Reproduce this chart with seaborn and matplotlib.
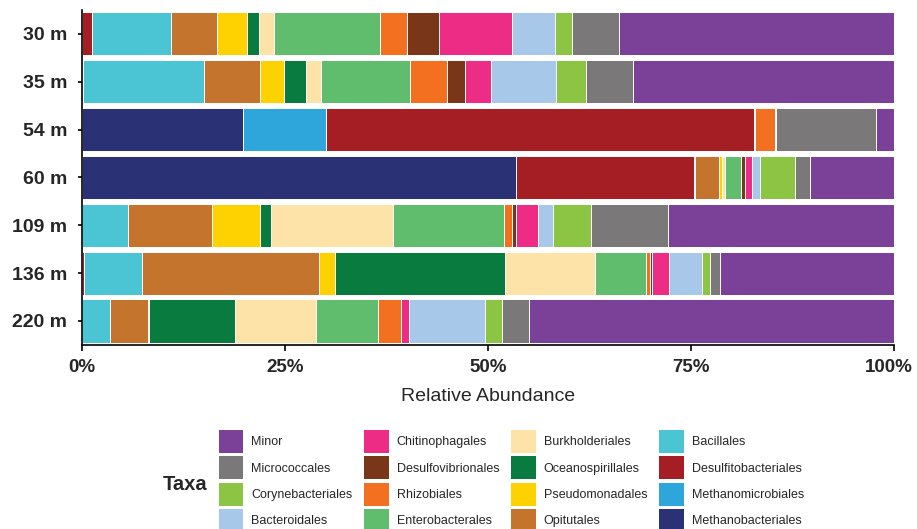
import matplotlib
matplotlib.use("Agg")
import matplotlib.pyplot as plt
from matplotlib.patches import Patch
from matplotlib.transforms import ScaledTranslation
import pandas as pd
import seaborn as sns

# Sampling depths (top to bottom)
depths = ["30 m", "35 m", "54 m", "60 m", "109 m", "136 m", "220 m"]

# Taxa in stacking order (left to right)
taxa = [
    "Methanobacteriales", "Methanomicrobiales", "Desulfitobacteriales",
    "Bacillales", "Opitutales", "Pseudomonadales", "Oceanospirillales",
    "Burkholderiales", "Enterobacterales", "Rhizobiales",
    "Desulfovibrionales", "Chitinophagales", "Bacteroidales",
    "Corynebacteriales", "Micrococcales", "Minor",
]

# Relative abundance (%) per taxon, one value per depth
methanobacteriales = [0.0, 0.0, 19.8, 53.5, 0.0, 0.0, 0.0]
methanomicrobiales = [0.0, 0.0, 10.3, 0.0, 0.0, 0.0, 0.0]
desulfitobacteriales = [1.2, 0.1, 52.6, 21.8, 0.0, 0.2, 0.0]
bacillales = [9.8, 14.9, 0.0, 0.2, 5.6, 7.2, 3.5]
opitutales = [5.6, 6.9, 0.0, 2.9, 10.4, 21.8, 4.6]
pseudomonadales = [3.7, 3.0, 0.0, 0.4, 5.9, 1.9, 0.2]
oceanospirillales = [1.5, 2.7, 0.0, 0.0, 1.4, 21.0, 10.5]
burkholderiales = [1.8, 1.8, 0.0, 0.4, 15.0, 11.1, 10.0]
enterobacterales = [13.1, 11.0, 0.2, 2.0, 13.6, 6.2, 7.7]
rhizobiales = [3.3, 4.6, 2.4, 0.0, 1.0, 0.6, 2.8]
desulfovibrionales = [3.9, 2.2, 0.0, 0.5, 0.6, 0.2, 0.0]
chitinophagales = [9.1, 3.1, 0.2, 0.8, 2.7, 2.1, 1.0]
bacteroidales = [5.2, 8.1, 0.0, 1.0, 1.8, 4.1, 9.3]
corynebacteriales = [2.1, 3.6, 0.0, 4.3, 4.7, 0.9, 2.1]
micrococcales = [5.8, 5.8, 12.3, 1.9, 9.5, 1.3, 3.3]
minor = [33.9, 32.2, 2.2, 10.3, 27.8, 21.4, 45.0]

values = [
    methanobacteriales, methanomicrobiales, desulfitobacteriales,
    bacillales, opitutales, pseudomonadales, oceanospirillales,
    burkholderiales, enterobacterales, rhizobiales,
    desulfovibrionales, chitinophagales, bacteroidales,
    corynebacteriales, micrococcales, minor,
]

colors = {
    "Methanobacteriales": "#2A3275",
    "Methanomicrobiales": "#2EA6DC",
    "Desulfitobacteriales": "#A51E23",
    "Bacillales": "#4BC5D3",
    "Opitutales": "#C4742C",
    "Pseudomonadales": "#FDD200",
    "Oceanospirillales": "#0A7B3F",
    "Burkholderiales": "#FDE3A8",
    "Enterobacterales": "#60BD6D",
    "Rhizobiales": "#F37021",
    "Desulfovibrionales": "#7A3619",
    "Chitinophagales": "#EC2C85",
    "Bacteroidales": "#A8C8E9",
    "Corynebacteriales": "#8CC443",
    "Micrococcales": "#7A7878",
    "Minor": "#7B4198",
}

# Long table with cumulative right edges of each segment
rows = []
for taxon, vals in zip(taxa, values):
    for d, v in zip(depths, vals):
        rows.append({"depth": d, "taxon": taxon, "value": v})
df = pd.DataFrame(rows)
df["taxon"] = pd.Categorical(df["taxon"], categories=taxa, ordered=True)
df = df.sort_values(["depth", "taxon"])
df["cum"] = df.groupby("depth", observed=True)["value"].cumsum()

sns.set_theme(style="ticks")
plt.rcParams["font.family"] = ["Liberation Sans", "DejaVu Sans"]

fig = plt.figure(figsize=(9.17, 5.29), dpi=100)
ax = fig.add_axes([0.0895, 0.348, 0.8855, 0.633])

# Draw from the outermost segment inward so each stack piece shows
for taxon in reversed(taxa):
    sub = df[df["taxon"] == taxon]
    sns.barplot(
        data=sub, x="cum", y="depth", order=depths, orient="h",
        color=colors[taxon], width=0.9, edgecolor="white", linewidth=0.7,
        saturation=1, ax=ax,
    )

ax.set_xlim(0, 100)
ax.set_ylim(6.5, -0.5)
ax.set_xticks([0, 25, 50, 75, 100])
ax.set_xticklabels(["0%", "25%", "50%", "75%", "100%"], fontsize=13.5,
                   fontweight="bold")
ax.set_yticks(range(len(depths)))
ax.set_yticklabels(depths, fontsize=14, fontweight="bold")
ax.set_ylabel("")
ax.set_xlabel("Relative Abundance", fontsize=14, labelpad=9)
ax.tick_params(axis="x", length=4, width=1.2, color="black", pad=6)
ax.tick_params(axis="y", length=3, width=1.2, color="black", pad=7.5)
for side in ("left", "bottom"):
    ax.spines[side].set_color("black")
    ax.spines[side].set_linewidth(1.2)
sns.despine(ax=ax)

# keep the last percentage label inside the canvas
last = ax.xaxis.get_major_ticks()[-1].label1
last.set_transform(last.get_transform()
                   + ScaledTranslation(-4 / 72, 0, fig.dpi_scale_trans))

# Legend laid out column by column, starting from the last stacked taxon
legend_order = list(reversed(taxa))
handles = [Patch(facecolor=colors[t], edgecolor="none", label=t)
           for t in legend_order]
fig.legend(
    handles=handles, loc="upper left", bbox_to_anchor=(0.2385, 0.187),
    ncol=4, frameon=False, fontsize=9.0, handlelength=1.95, handleheight=2.45,
    labelspacing=0.27, handletextpad=0.65, columnspacing=0.95, borderpad=0,
    borderaxespad=0,
)
fig.text(0.2257, 0.085, "Taxa", fontsize=14.5, fontweight="bold",
         ha="right", va="center")

fig.savefig("out.png", dpi=100)
